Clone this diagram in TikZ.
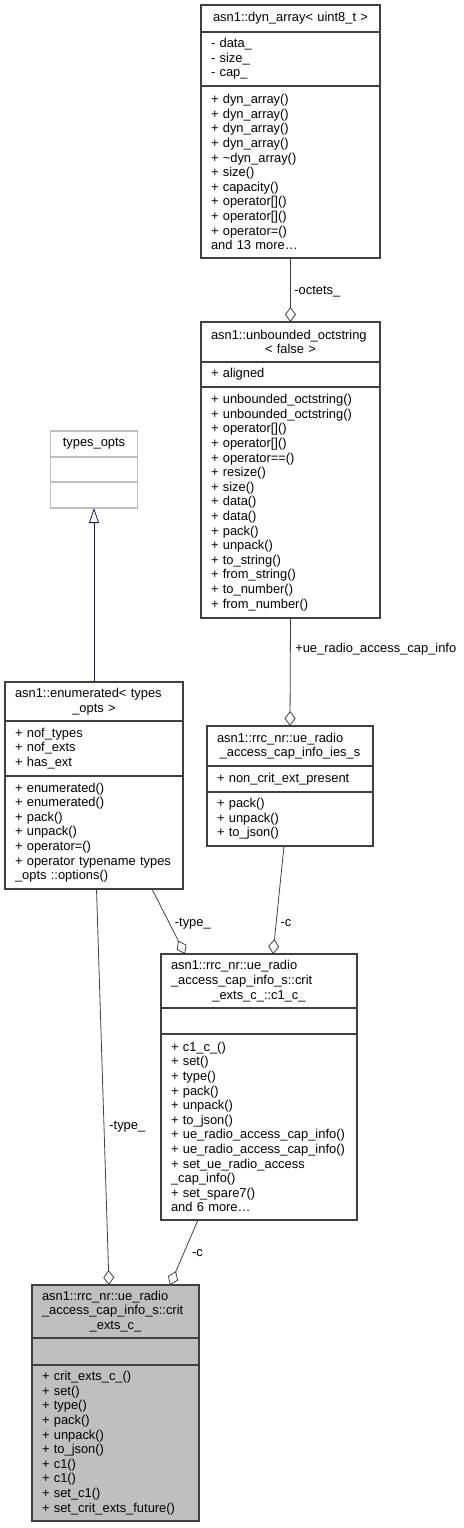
\documentclass[tikz,border=0pt]{standalone}
\usepackage{fontspec}
\setmainfont{Liberation Sans}
\usetikzlibrary{arrows.meta, positioning, calc}
\definecolor{lineGray}{HTML}{404040}
\definecolor{lightGray}{HTML}{BFBFBF}
\definecolor{inhBlue}{HTML}{191970}
\newcommand{\ctrline}[1]{\hbox to \hsize{\hfil#1\hfil}}
\tikzset{
    clsPart/.style={rectangle, draw=lineGray, line width=1.1pt, outer sep=0pt,
        inner xsep=10pt, inner ysep=1pt, align=left,
        font=\fontsize{12.9pt}{14.6pt}\selectfont},
    clsTitle/.style={clsPart, anchor=north west},
    grayPart/.style={draw=lightGray},
    focusPart/.style={fill=lightGray},
    aggr/.style={draw=lineGray, line width=0.8pt, -{Diamond[open, length=15pt, width=11pt]}},
    inherit/.style={draw=inhBlue, line width=0.8pt, -{Triangle[open, length=15pt, width=10pt]}},
    edgeLbl/.style={anchor=west, inner sep=0pt, font=\fontsize{12.9pt}{14.6pt}\selectfont}
}

\begin{document}
\begin{tikzpicture}[x=1pt, y=-1pt]
    \useasboundingbox (0,0) rectangle (463,1528);

    % dyn_array
    \node[clsTitle, text width=159pt, minimum height=27pt] (dynT) at (201,5)
        {\ctrline{asn1::dyn\_array< uint8\_t >}};
    \node[clsPart, text width=159pt, minimum height=54pt, below=0pt of dynT] (dynA)
        {- data\_\\- size\_\\- cap\_};
    \node[clsPart, text width=159pt, minimum height=172pt, below=0pt of dynA] (dynM)
        {+ dyn\_array()\\+ dyn\_array()\\+ dyn\_array()\\+ dyn\_array()\\+ \textasciitilde dyn\_array()\\+ size()\\+ capacity()\\+ operator[]()\\+ operator[]()\\+ operator=()\\and 13 more\ldots};

    % unbounded_octstring
    \node[clsTitle, text width=159pt, minimum height=40pt] (uoctT) at (201,322)
        {asn1::unbounded\_octstring\\\ctrline{< false >}};
    \node[clsPart, text width=159pt, minimum height=25pt, below=0pt of uoctT] (uoctA)
        {+ aligned};
    \node[clsPart, text width=159pt, minimum height=231pt, below=0pt of uoctA] (uoctM)
        {+ unbounded\_octstring()\\+ unbounded\_octstring()\\+ operator[]()\\+ operator[]()\\+ operator==()\\+ resize()\\+ size()\\+ data()\\+ data()\\+ pack()\\+ unpack()\\+ to\_string()\\+ from\_string()\\+ to\_number()\\+ from\_number()};

    % types_opts
    \node[clsTitle, grayPart, text width=67pt, minimum height=26pt] (toptsT) at (50.5,431)
        {\ctrline{types\_opts}};
    \node[clsPart, grayPart, text width=67pt, minimum height=25pt, below=0pt of toptsT] (toptsA) {};
    \node[clsPart, grayPart, text width=67pt, minimum height=26pt, below=0pt of toptsA] (toptsM) {};

    % enumerated
    \node[clsTitle, text width=158pt, minimum height=39pt] (enumT) at (5,682)
        {asn1::enumerated< types\\\ctrline{\_opts >}};
    \node[clsPart, text width=158pt, minimum height=55pt, below=0pt of enumT] (enumA)
        {+ nof\_types\\+ nof\_exts\\+ has\_ext};
    \node[clsPart, text width=158pt, minimum height=113pt, below=0pt of enumA] (enumM)
        {+ enumerated()\\+ enumerated()\\+ pack()\\+ unpack()\\+ operator=()\\+ operator typename types\\\_opts ::options()};

    % ue_radio_access_cap_info_ies_s
    \node[clsTitle, text width=146pt, minimum height=40pt] (iesT) at (207,726)
        {asn1::rrc\_nr::ue\_radio\\\ctrline{\_access\_cap\_info\_ies\_s}};
    \node[clsPart, text width=146pt, minimum height=26pt, below=0pt of iesT] (iesA)
        {+ non\_crit\_ext\_present};
    \node[clsPart, text width=146pt, minimum height=54pt, below=0pt of iesA] (iesM)
        {+ pack()\\+ unpack()\\+ to\_json()};

    % c1_c_
    \node[clsTitle, text width=176pt, minimum height=54pt] (c1T) at (161,954)
        {asn1::rrc\_nr::ue\_radio\\\_access\_cap\_info\_s::crit\\\ctrline{\_exts\_c\_::c1\_c\_}};
    \node[clsPart, text width=176pt, minimum height=26pt, below=0pt of c1T] (c1A) {};
    \node[clsPart, text width=176pt, minimum height=186pt, below=0pt of c1A] (c1M)
        {+ c1\_c\_()\\+ set()\\+ type()\\+ pack()\\+ unpack()\\+ to\_json()\\+~ue\_radio\_access\_cap\_info()\\+~ue\_radio\_access\_cap\_info()\\+ set\_ue\_radio\_access\\\_cap\_info()\\+ set\_spare7()\\and 6 more\ldots};

    % crit_exts_c_
    \node[clsTitle, focusPart, text width=147pt, minimum height=53pt] (critT) at (32,1285)
        {asn1::rrc\_nr::ue\_radio\\\_access\_cap\_info\_s::crit\\\ctrline{\_exts\_c\_}};
    \node[clsPart, focusPart, text width=147pt, minimum height=27pt, below=0pt of critT] (critA) {};
    \node[clsPart, focusPart, text width=147pt, minimum height=156pt, below=0pt of critA] (critM)
        {+ crit\_exts\_c\_()\\+ set()\\+ type()\\+ pack()\\+ unpack()\\+ to\_json()\\+ c1()\\+ c1()\\+ set\_c1()\\+ set\_crit\_exts\_future()};

    % connectors
    \draw[aggr] (dynM.south) -- (uoctT.north)
        node[edgeLbl, pos=0.53, xshift=3.5pt] {-octets\_};
    \draw[aggr] (uoctM.south) -- (iesT.north)
        node[edgeLbl, pos=0.29, xshift=4.5pt] {+ue\_radio\_access\_cap\_info};
    \draw[inherit] (enumT.north) -- (toptsM.south);
    \draw[aggr] ([xshift=-6pt]iesM.south) -- ([xshift=14pt]c1T.north)
        node[edgeLbl, pos=0.71, xshift=4pt] {-c};
    \draw[aggr] ([xshift=58pt]enumM.south) -- ([xshift=-74pt]c1T.north)
        node[edgeLbl, pos=0.53, xshift=5pt] {-type\_};
    \draw[aggr] ([xshift=2.5pt]enumM.south) -- ([xshift=-6.5pt]critT.north)
        node[edgeLbl, pos=0.6, xshift=5pt] {-type\_};
    \draw[aggr] ([xshift=-61pt]c1M.south) -- ([xshift=54.5pt]critT.north)
        node[edgeLbl, pos=0.51, xshift=8pt] {-c};
\end{tikzpicture}
\end{document}
